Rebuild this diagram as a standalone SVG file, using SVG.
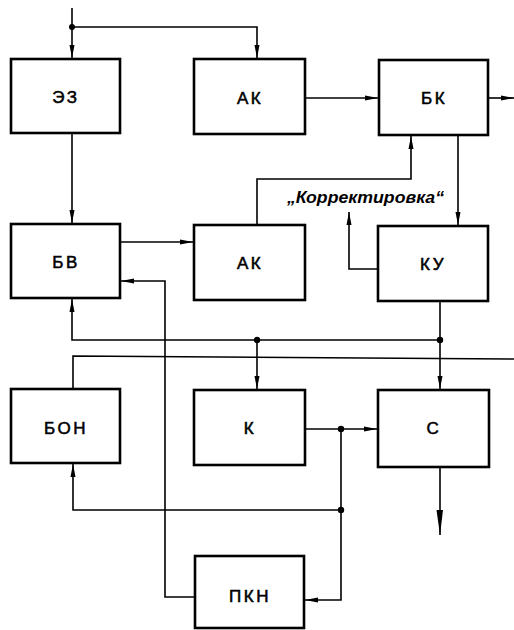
<svg xmlns="http://www.w3.org/2000/svg" width="514" height="630" viewBox="0 0 514 630">
  <style>
    .box { fill: #fff; stroke: #000; stroke-width: 2.6; }
    .lbl { font-family: "Liberation Sans", Arial, sans-serif; font-size: 17px; font-weight: normal; text-anchor: middle; letter-spacing: 2.5px; fill: #000; stroke: #000; stroke-width: 0.55; }
    .wire { fill: none; stroke: #000; stroke-width: 1.6; }
    .arr { marker-end: url(#ah); }
    .dot { fill: #000; }
    .note { font-family: "Liberation Sans", Arial, sans-serif; font-size: 16px; font-weight: bold; font-style: italic; fill: #000; }
  </style>
  <defs>
    <marker id="ah" markerUnits="userSpaceOnUse" markerWidth="14" markerHeight="6" refX="13" refY="3" orient="auto">
      <path d="M0,0.5 L13,3 L0,5.5 z" fill="#000"/>
    </marker>
    <marker id="ahLong" markerUnits="userSpaceOnUse" markerWidth="26" markerHeight="8" refX="25" refY="4" orient="auto">
      <path d="M0,1 L25,4 L0,7.5 z" fill="#000"/>
    </marker>
  </defs>

  <rect width="514" height="630" fill="#fff"/>

  <!-- connectors -->
  <g id="connectors">
    <path class="wire arr" d="M72,8 V58"/>
    <path class="wire arr" d="M72,27 H257 V58"/>
    <path class="wire arr" d="M72,133 V223"/>
    <path class="wire arr" d="M305,98 H378"/>
    <path class="wire arr" d="M488,98 H514"/>
    <path class="wire arr" d="M257,225 V179 H411 V136"/>
    <path class="wire arr" d="M458,135 V225"/>
    <path class="wire arr" d="M378,269 H349 V212"/>
    <path class="wire arr" d="M120,242 H193"/>
    <path class="wire arr" d="M195,597 H165 V281 H121"/>
    <path class="wire arr" d="M440,301 V389"/>
    <path class="wire arr" d="M440,340 H72 V299"/>
    <path class="wire arr" d="M257,340 V389"/>
    <path class="wire" d="M73,389 V356 L514,359"/>
    <path class="wire arr" d="M305,429 H377"/>
    <path class="wire arr" d="M341,429 V600 H305"/>
    <path class="wire arr" d="M341,510 H73 V464"/>
    <path class="wire" d="M440,467 V535" marker-end="url(#ahLong)"/>
    <circle class="dot" cx="72" cy="27" r="3"/>
    <circle class="dot" cx="257" cy="340" r="3.2"/>
    <circle class="dot" cx="440" cy="340" r="3.2"/>
    <circle class="dot" cx="341" cy="429" r="3.2"/>
    <circle class="dot" cx="341" cy="510" r="3.2"/>
    <text class="note" x="287" y="203" textLength="157" lengthAdjust="spacingAndGlyphs">„Корректировка“</text>
  </g>

  <!-- blocks -->
  <g id="n-ez"><rect class="box" x="11" y="59" width="109" height="74"/><text class="lbl" x="66" y="103">ЭЗ</text></g>
  <g id="n-ak1"><rect class="box" x="194" y="59" width="111" height="75"/><text class="lbl" x="250" y="104">АК</text></g>
  <g id="n-bk"><rect class="box" x="379" y="60" width="109" height="75"/><text class="lbl" x="434" y="104">БК</text></g>
  <g id="n-bv"><rect class="box" x="11" y="224" width="109" height="74"/><text class="lbl" x="66" y="268">БВ</text></g>
  <g id="n-ak2"><rect class="box" x="194" y="225" width="111" height="75"/><text class="lbl" x="250" y="269">АК</text></g>
  <g id="n-ku"><rect class="box" x="378" y="226" width="110" height="75"/><text class="lbl" x="433" y="270">КУ</text></g>
  <g id="n-bon"><rect class="box" x="11" y="389" width="109" height="74"/><text class="lbl" x="66" y="434">БОН</text></g>
  <g id="n-k"><rect class="box" x="194" y="390" width="111" height="75"/><text class="lbl" x="250" y="434">К</text></g>
  <g id="n-c"><rect class="box" x="378" y="390" width="111" height="77"/><text class="lbl" x="434" y="434">С</text></g>
  <g id="n-pkn"><rect class="box" x="195" y="556" width="109" height="72"/><text class="lbl" x="250" y="602">ПКН</text></g>
</svg>
